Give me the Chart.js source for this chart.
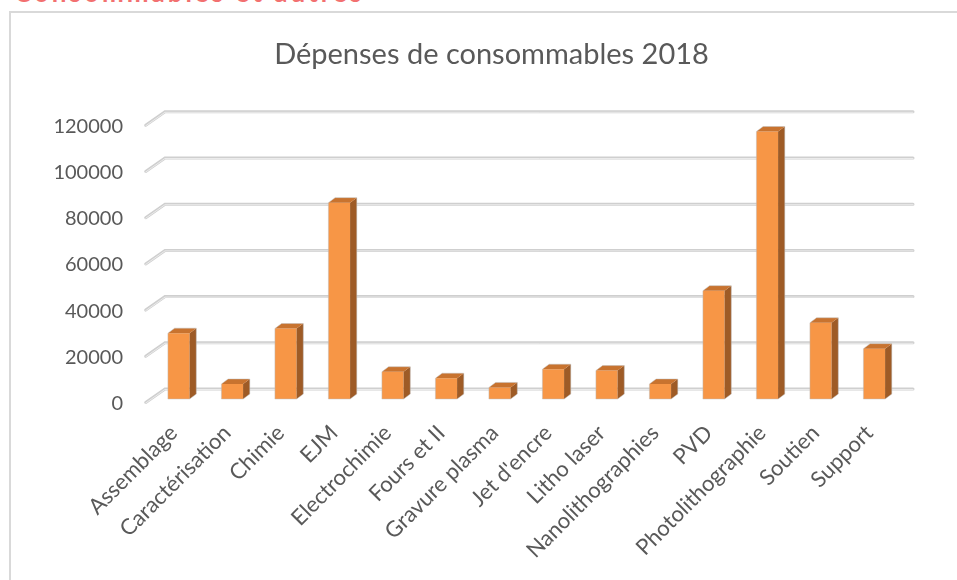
<!DOCTYPE html>
<html>
<head>
<meta charset="utf-8">
<script src="https://cdn.jsdelivr.net/npm/chart.js@4/dist/chart.umd.min.js"></script>
<style>
  html, body { margin: 0; padding: 0; background: #ffffff; overflow: hidden; }
  #wrap { position: relative; width: 957px; height: 580px; }
  #hdr { position: absolute; left: 14px; top: 0; height: 4px; width: 500px; overflow: hidden; }
  #hdr span { position: absolute; left: 0; top: -23.5px; font: bold 26px Lato, sans-serif; color: #f27070; white-space: nowrap; letter-spacing: 3px; line-height: 30px; }
  #frame { position: absolute; left: 9px; top: 11px; width: 1000px; height: 1000px; border: 2px solid #d9d9d9; box-sizing: border-box; }
  canvas { position: absolute; left: 0; top: 0; }
</style>
</head>
<body>
<div id="wrap">
  <div id="hdr"><span>Consommables et autres</span></div>
  <div id="frame"></div>
  <canvas id="c" width="957" height="580"></canvas>
</div>
<script>
const chartTitle = "Dépenses de consommables 2018";
const categories = ["Assemblage", "Caractérisation", "Chimie", "EJM", "Electrochimie", "Fours et II", "Gravure plasma", "Jet d'encre", "Litho laser", "Nanolithographies", "PVD", "Photolithographie", "Soutien", "Support"];
const expenses = [28500, 6500, 30500, 85000, 11800, 9000, 5000, 12900, 12300, 6500, 46900, 115800, 33000, 21800];
const yTicks = [0, 20000, 40000, 60000, 80000, 100000, 120000];

const DX = 6.7, DY = -5;          // bar depth offsets
const GX_BACK = 13, GY_BACK = -10; // back wall offsets
const GX_FRONT = -6.3, GY_FRONT = 3.5;

const grid3d = {
  id: 'grid3d',
  beforeDatasetsDraw(chart) {
    const ctx = chart.ctx, y = chart.scales.y, a = chart.chartArea;
    ctx.save();
    yTicks.forEach(v => {
      const py = y.getPixelForValue(v);
      const bx0 = a.left + GX_BACK, by = py + GY_BACK, bx1 = a.right + 12;
      ctx.lineCap = 'round';
      ctx.strokeStyle = '#cfcfcf';
      ctx.lineWidth = 3;
      ctx.beginPath();
      ctx.moveTo(a.left + GX_FRONT, py + GY_FRONT);
      ctx.lineTo(bx0, by);
      ctx.lineTo(bx1, by);
      ctx.stroke();
      ctx.strokeStyle = '#ebebeb';
      ctx.lineWidth = 1;
      ctx.beginPath();
      ctx.moveTo(a.left + GX_FRONT, py + GY_FRONT + 0.5);
      ctx.lineTo(bx0, by + 0.5);
      ctx.lineTo(bx1, by + 0.5);
      ctx.stroke();
    });
    ctx.restore();
  },
  afterDatasetsDraw(chart) {
    const ctx = chart.ctx;
    const meta = chart.getDatasetMeta(0);
    ctx.save();
    meta.data.forEach(bar => {
      const p = bar.getProps(['x', 'y', 'base', 'width'], true);
      const l = p.x - p.width / 2, r = p.x + p.width / 2, t = p.y, b = p.base;
      ctx.fillStyle = '#9e5b26';
      ctx.beginPath();
      ctx.moveTo(r, t); ctx.lineTo(r + DX, t + DY); ctx.lineTo(r + DX, b + DY); ctx.lineTo(r, b);
      ctx.closePath(); ctx.fill();
      ctx.fillStyle = '#c8732f';
      ctx.beginPath();
      ctx.moveTo(l, t); ctx.lineTo(l + DX, t + DY); ctx.lineTo(r + DX, t + DY); ctx.lineTo(r, t);
      ctx.closePath(); ctx.fill();
      ctx.strokeStyle = 'rgba(190,190,190,0.6)';
      ctx.lineWidth = 0.8;
      ctx.beginPath();
      ctx.moveTo(l, b); ctx.lineTo(l, t); ctx.lineTo(l + DX, t + DY); ctx.lineTo(r + DX, t + DY);
      ctx.lineTo(r + DX, b + DY); ctx.lineTo(r, b); ctx.closePath();
      ctx.stroke();
    });
    ctx.restore();
  }
};

new Chart(document.getElementById('c'), {
  type: 'bar',
  data: {
    labels: categories,
    datasets: [{
      data: expenses,
      backgroundColor: '#f79646',
      borderWidth: 0,
      barPercentage: 0.81,
      categoryPercentage: 0.5
    }]
  },
  options: {
    responsive: false,
    animation: false,
    devicePixelRatio: 1,
    layout: { padding: { left: 26, right: 0, top: 0, bottom: 0 } },
    plugins: {
      legend: { display: false },
      tooltip: { enabled: false },
      title: {
        display: true,
        text: chartTitle,
        color: '#595959',
        font: { family: 'Lato', size: 29, weight: 'normal' },
        padding: { top: 37, bottom: 50 }
      }
    },
    scales: {
      x: {
        grid: { display: false },
        border: { display: false },
        ticks: {
          autoSkip: false,
          maxRotation: 45,
          minRotation: 45,
          padding: 13,
          labelOffset: -5,
          color: '#595959',
          font: { family: 'Lato', size: 22 }
        },
        afterFit(scale) { scale.height = 181; }
      },
      y: {
        min: 0,
        max: 120000,
        afterBuildTicks(scale) { scale.ticks = yTicks.map(v => ({ value: v })); },
        grid: { display: false, drawTicks: false },
        border: { display: false },
        ticks: {
          padding: 29,
          labelOffset: 4.5,
          color: '#595959',
          font: { family: 'Lato', size: 20 },
          callback: v => String(v)
        },
        afterFit(scale) { scale.width = 126; }
      },
      yRight: {
        position: 'right',
        display: true,
        grid: { display: false, drawTicks: false },
        border: { display: false },
        ticks: { display: false },
        afterFit(scale) { scale.width = 56; }
      }
    }
  },
  plugins: [grid3d]
});
</script>
</body>
</html>
